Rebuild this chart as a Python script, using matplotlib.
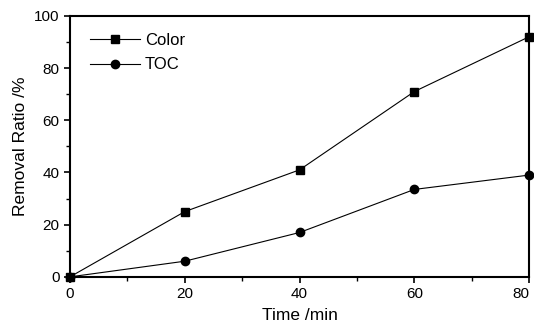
import matplotlib
matplotlib.use("Agg")
import matplotlib.pyplot as plt
from matplotlib.ticker import MultipleLocator

plt.rcParams['font.family'] = ['Liberation Sans', 'DejaVu Sans']

time_min = [0, 20, 40, 60, 80]
color_removal = [0, 25, 41, 71, 92]
toc_removal = [0, 6, 17, 33.5, 39]
x_ticks = [0, 20, 40, 60, 80]

fig = plt.figure(figsize=(5.34, 3.3), dpi=100)
ax = fig.add_axes([0.131, 0.161, 0.86, 0.791])

ax.plot(time_min, color_removal, '-s', color='black', lw=0.8, ms=5.5, label='Color', clip_on=False, zorder=3)
ax.plot(time_min, toc_removal, '-o', color='black', lw=0.8, ms=6, label='TOC', clip_on=False, zorder=3)

ax.set_xlim(0, 80)
ax.set_ylim(0, 100)
ax.set_xticks(x_ticks)
ax.xaxis.set_minor_locator(MultipleLocator(10))
ax.yaxis.set_major_locator(MultipleLocator(20))
ax.yaxis.set_minor_locator(MultipleLocator(10))
ax.tick_params(which='both', direction='out', top=False, right=False, labelsize=11)
ax.tick_params(which='major', length=4, width=1.2)
ax.tick_params(which='minor', length=3, width=1)
for s in ax.spines.values():
    s.set_linewidth(1.5)

ax.xaxis.get_major_ticks()[-1].label1.set_horizontalalignment('right')

ax.set_xlabel('Time /min', fontsize=12.5, labelpad=5)
ax.set_ylabel('Removal Ratio /%', fontsize=12.5, labelpad=4)

ax.legend(loc='upper left', frameon=False, fontsize=12, handlelength=3.0,
          handletextpad=0.3, borderaxespad=0.3, labelspacing=0.55,
          bbox_to_anchor=(0.018, 0.978))

fig.savefig('out.png', dpi=100)
